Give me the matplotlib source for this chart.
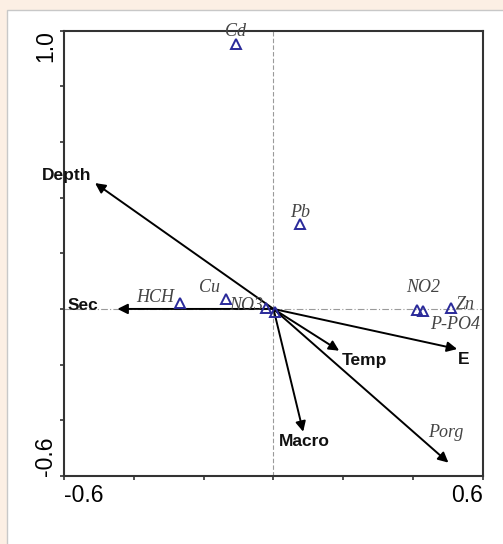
import matplotlib
matplotlib.use("Agg")
import matplotlib.pyplot as plt
from matplotlib.patches import Rectangle

# ---- data ----
species_names = ['Cd', 'Pb', 'HCH', 'Cu', 'NO3', '', 'NO2', 'P-PO4', 'Zn']
species_x = [-0.108, 0.077, -0.268, -0.136, -0.022, 0.005, 0.411, 0.427, 0.508]
species_y = [0.952, 0.304, 0.023, 0.035, 0.002, -0.010, -0.004, -0.008, 0.002]

env_names = ['Depth', 'Sec', 'Temp', 'E', 'Macro', 'Porg']
env_x = [-0.511, -0.447, 0.188, 0.526, 0.085, 0.501]
env_y = [0.452, 0.0, -0.150, -0.144, -0.441, -0.552]

x_ticks = [-0.6, -0.4, -0.2, 0.0, 0.2, 0.4, 0.6]
x_ticklabels = ['-0.6', '', '', '', '', '', '0.6']
y_ticks = [-0.6, -0.4, -0.2, 0.0, 0.2, 0.4, 0.6, 0.8, 1.0]
y_ticklabels = ['-0.6', '', '', '', '', '', '', '', '1.0']

# ---- label placement (pixel offsets, ha, va) ----
species_lab = {
    'Cd': (0, 12, 'center', 'center'),
    'Pb': (0, 12, 'center', 'center'),
    'HCH': (-6, 5, 'right', 'center'),
    'Cu': (-17, 12, 'center', 'center'),
    'NO3': (-3, 3, 'right', 'center'),
    'NO2': (6, 23, 'center', 'center'),
    'P-PO4': (7, -13, 'left', 'center'),
    'Zn': (5, 4, 'left', 'center'),
}
env_lab = {
    'Depth': (-28, 8),
    'Sec': (-34, 3),
    'Temp': (25, -10),
    'E': (6, -10),
    'Macro': (1, -10),
    'Porg': (-3, 30),
}
italic_env = {'Porg'}

fig = plt.figure(figsize=(5.03, 5.44), dpi=100)
fig.patch.set_facecolor('#fcefe4')
bg = fig.add_axes([0, 0, 1, 1], zorder=-5)
bg.set_axis_off()
bg.set_xlim(0, 503)
bg.set_ylim(544, 0)
bg.add_patch(Rectangle((7.5, 10), 500, 540, facecolor='white',
                       edgecolor='#c8c8c8', lw=1.0))

ax = fig.add_axes([64 / 503, (544 - 476) / 544, (483 - 64) / 503, (476 - 30.5) / 544])
ax.set_xlim(-0.6, 0.6)
ax.set_ylim(-0.6, 1.0)
ax.patch.set_alpha(0)

ax.axvline(0, color='#9a9a9a', lw=0.8, ls=(0, (4, 2)), zorder=1)
ax.axhline(0, color='#9a9a9a', lw=0.8, ls=(0, (6, 2, 1, 2)), zorder=1)

# arrows
for name, x, y in zip(env_names, env_x, env_y):
    ax.annotate('', xy=(x, y), xytext=(0, 0),
                arrowprops=dict(arrowstyle='-|>', color='black', lw=1.4,
                                mutation_scale=15, shrinkA=0, shrinkB=0),
                zorder=3)
    dx, dy = env_lab[name]
    if name in italic_env:
        ax.annotate(name, xy=(x, y), xytext=(dx, dy), textcoords='offset pixels',
                    ha='center', va='center', fontsize=13, style='italic',
                    family='Liberation Serif', color='#444444',
                    annotation_clip=False)
    else:
        ax.annotate(name, xy=(x, y), xytext=(dx, dy), textcoords='offset pixels',
                    ha='center', va='center', fontsize=12.5, fontweight='bold',
                    family='Liberation Sans', color='#111111',
                    annotation_clip=False)

# species
ax.plot(species_x, species_y, ls='none', marker='^', markersize=6.5,
        markerfacecolor='none', markeredgecolor='#2a2a9a', markeredgewidth=1.4,
        zorder=4, clip_on=False)
for name, x, y in zip(species_names, species_x, species_y):
    if not name:
        continue
    dx, dy, ha, va = species_lab[name]
    ax.annotate(name, xy=(x, y), xytext=(dx, dy), textcoords='offset pixels',
                ha=ha, va=va, fontsize=13, style='italic',
                family='Liberation Serif', color='#444444',
                annotation_clip=False, zorder=5)

for s in ax.spines.values():
    s.set_color('#333333')
    s.set_linewidth(1.5)

ax.set_xticks(x_ticks)
ax.set_xticklabels(x_ticklabels, family='Liberation Sans', fontsize=16.5)
ax.set_yticks(y_ticks)
ax.set_yticklabels(y_ticklabels, family='Liberation Sans', fontsize=16.5, rotation=90)
ax.tick_params(direction='out', length=3, width=1.2, color='#333333')
ax.tick_params(axis='x', pad=3)
ax.tick_params(axis='y', pad=2)
xt = ax.get_xticklabels()
xt[0].set_ha('left')
xt[-1].set_ha('right')
yt = ax.get_yticklabels()
yt[0].set_va('bottom')
yt[-1].set_va('top')
for t in yt:
    t.set_ha('right')

fig.savefig('out.png', dpi=100, facecolor=fig.get_facecolor())
